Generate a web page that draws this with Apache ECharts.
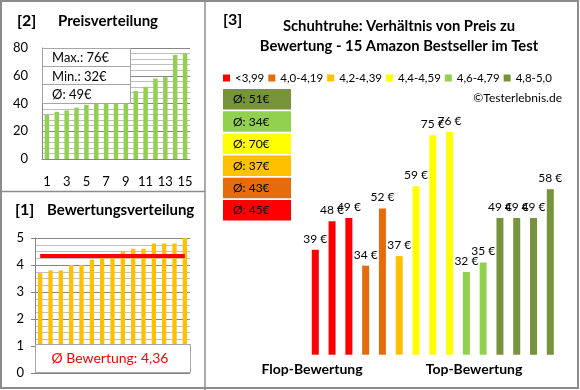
<!DOCTYPE html>
<html>
<head>
<meta charset="utf-8">
<script src="https://cdn.jsdelivr.net/npm/echarts@6/dist/echarts.min.js"></script>
<style>
html,body{margin:0;padding:0;background:#fff;}
#c{width:580px;height:390px;}
</style>
</head>
<body>
<div id="c"></div>
<script>
// ---- data ----
const rankLabels = ['1','2','3','4','5','6','7','8','9','10','11','12','13','14','15'];
const sortedPrices = [32,34,35,37,39,48,49,49,49,49,52,58,59,75,76];
const sortedRatings = [3.7,3.8,3.8,4.0,4.0,4.2,4.4,4.4,4.5,4.6,4.6,4.8,4.8,4.8,5.0];
const avgRating = 4.36;
const avgRatingText = 'Ø Bewertung: 4,36';
const priceStats = ['Max.: 76€','Min.: 32€','Ø: 49€'];
const pricesByRating = [39,48,49,34,52,37,59,75,76,32,35,49,49,49,58];
const groupOfProduct = [0,0,0,1,1,2,3,3,3,4,4,5,5,5,5];
const groupNames = ['<3,99','4,0-4,19','4,2-4,39','4,4-4,59','4,6-4,79','4,8-5,0'];
const groupColors = ['#FF0000','#E46C0A','#FFC000','#FFFF00','#92D050','#77933C'];
const groupAvgLabels = ['Ø: 45€','Ø: 43€','Ø: 37€','Ø: 70€','Ø: 34€','Ø: 51€'];
const axisLabels = ['Flop-Bewertung','Top-Bewertung'];

const FONT = 'Lato';
const chart = echarts.init(document.getElementById('c'), null, {renderer:'canvas'});

function txt(text, x, y, size, opts) {
  opts = opts || {};
  return {
    type:'text', z:100,
    style:{
      text:text, x:x, y:y,
      font:(opts.bold?'bold ':'') + size + 'px ' + FONT,
      fill:opts.color || '#000',
      align:opts.align || 'left', textAlign:opts.align || 'left',
      verticalAlign:'middle', textVerticalAlign:'middle'
    }
  };
}

const graphics = [];
// borders
graphics.push({type:'rect', z:100, shape:{x:1,y:1,width:577,height:387}, style:{fill:'none', stroke:'#8C8C8C', lineWidth:2}});
graphics.push({type:'line', z:100, shape:{x1:205,y1:0,x2:205,y2:390}, style:{stroke:'#8C8C8C', lineWidth:1.5}});
graphics.push({type:'line', z:100, shape:{x1:0,y1:191.5,x2:205,y2:191.5}, style:{stroke:'#8C8C8C', lineWidth:1.5}});
// panel titles
graphics.push(txt('[2]', 17, 21, 16, {bold:true}));
graphics.push(txt('Preisverteilung', 58, 21, 15, {bold:true}));
graphics.push(txt('[1]', 15, 210, 16, {bold:true}));
graphics.push(txt('Bewertungsverteilung', 47, 210, 15, {bold:true}));
graphics.push(txt('[3]', 223, 20, 16, {bold:true}));
graphics.push(txt('Schuhtruhe: Verhältnis von Preis zu', 399, 26, 14.8, {bold:true, align:'center'}));
graphics.push(txt('Bewertung - 15 Amazon Bestseller im Test', 399, 46, 14.8, {bold:true, align:'center'}));
graphics.push(txt('©Testerlebnis.de', 562, 98, 12, {align:'right'}));
// price stats box
graphics.push({type:'rect', z:100, shape:{x:42.5,y:48.5,width:88,height:55}, style:{fill:'#fff', stroke:'#A6A6A6', lineWidth:1}});
graphics.push({type:'line', z:100, shape:{x1:42.5,y1:66.5,x2:130.5,y2:66.5}, style:{stroke:'#A6A6A6', lineWidth:1}});
graphics.push({type:'line', z:100, shape:{x1:42.5,y1:84.5,x2:130.5,y2:84.5}, style:{stroke:'#A6A6A6', lineWidth:1}});
priceStats.forEach((s,i)=>graphics.push(txt(s, 52, 58 + i*18.5, 13)));
// rating box
graphics.push({type:'rect', z:100, shape:{x:35.5,y:344.5,width:155,height:28}, style:{fill:'#fff', stroke:'#A6A6A6', lineWidth:1}});
graphics.push(txt(avgRatingText, 110, 358, 14, {color:'#FF0000', align:'center'}));
// group average boxes (top = best group)
for (let k = 0; k < 6; k++) {
  const g = 5 - k;
  const top = 89 + k * 22.2;
  graphics.push({type:'rect', z:100, shape:{x:223,y:top,width:68,height:20.5}, style:{fill:groupColors[g]}});
  graphics.push(txt(groupAvgLabels[g], 233, top + 10.5, 12));
}
// bottom captions
graphics.push(txt(axisLabels[0], 312, 369, 14, {bold:true, align:'center'}));
graphics.push(txt(axisLabels[1], 474, 369, 14, {bold:true, align:'center'}));

const groupSeries = groupNames.map((name, g) => ({
  name:name, type:'bar', xAxisIndex:2, yAxisIndex:2,
  barWidth:7, barGap:'-100%',
  itemStyle:{color:groupColors[g]},
  label:{show:true, position:'top', distance:5, formatter:'{c} €', fontSize:12, fontFamily:FONT, color:'#000'},
  data: pricesByRating.map((p,i)=> groupOfProduct[i] === g ? p : null)
}));

const option = {
  animation:false,
  backgroundColor:'#fff',
  textStyle:{fontFamily:FONT},
  legend:{
    data:groupNames, left:223, top:72, width:400, icon:'rect', itemWidth:7, itemHeight:7, itemGap:4,
    padding:0,
    textStyle:{fontSize:11.5, fontFamily:FONT, color:'#000'},
    selectedMode:false
  },
  grid:[
    {left:42, top:48, width:148, height:111, outerBoundsMode:'none'},
    {left:35, top:238, width:155, height:135, outerBoundsMode:'none'},
    {left:306.9, top:119.4, width:251.8, height:235.3, outerBoundsMode:'none'}
  ],
  xAxis:[
    {gridIndex:0, type:'category', data:rankLabels,
     axisLine:{show:true, lineStyle:{color:'#868686'}}, axisTick:{show:false},
     axisLabel:{interval:1, margin:16, fontSize:13, color:'#000'}},
    {gridIndex:1, type:'category', data:rankLabels,
     axisLine:{show:false}, axisTick:{show:false}, axisLabel:{show:false}},
    {gridIndex:2, type:'category', data:rankLabels, show:false}
  ],
  yAxis:[
    {gridIndex:0, type:'value', min:0, max:80, interval:20,
     axisLine:{show:true, lineStyle:{color:'#868686'}}, axisTick:{show:false},
     axisLabel:{margin:14, fontSize:13, color:'#000'},
     splitLine:{lineStyle:{color:'#868686'}},
     minorTick:{show:false, splitNumber:5},
     minorSplitLine:{show:true, lineStyle:{color:'#BFBFBF'}}},
    {gridIndex:1, type:'value', min:0, max:5, interval:1,
     axisLine:{show:true, lineStyle:{color:'#868686'}},
     axisTick:{show:true, length:4, lineStyle:{color:'#868686'}},
     axisLabel:{margin:11, fontSize:13, color:'#000'},
     splitLine:{lineStyle:{color:'#868686'}},
     minorTick:{show:false, splitNumber:4},
     minorSplitLine:{show:true, lineStyle:{color:'#BFBFBF'}}},
    {gridIndex:2, type:'value', min:6, max:80, show:false}
  ],
  series:[
    {type:'bar', xAxisIndex:0, yAxisIndex:0, barWidth:4.5, itemStyle:{color:'#92D050'}, data:sortedPrices},
    {type:'bar', xAxisIndex:1, yAxisIndex:1, barWidth:4.3, itemStyle:{color:'#FFC000'}, data:sortedRatings,
     markLine:{symbol:'none', silent:true, label:{show:false},
       lineStyle:{color:'#FF0000', width:4, type:'solid'},
       data:[[{coord:[0, avgRating]},{coord:[14, avgRating]}]]}}
  ].concat(groupSeries),
  graphic:graphics
};
chart.setOption(option);
</script>
</body>
</html>
